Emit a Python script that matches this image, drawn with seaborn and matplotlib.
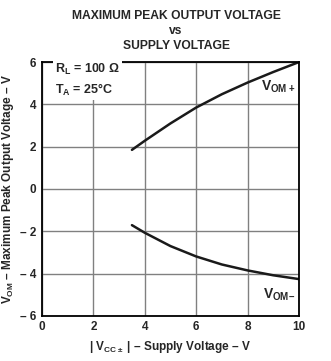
import matplotlib
matplotlib.use("Agg")
import matplotlib.pyplot as plt
import seaborn as sns
import pandas as pd

# data
vcc_pos = [3.5, 4.0, 5.0, 6.0, 7.0, 8.0, 9.0, 10.0]
vom_pos = [1.85, 2.28, 3.1, 3.85, 4.48, 5.03, 5.53, 6.0]
vcc_neg = [3.5, 4.0, 5.0, 6.0, 7.0, 8.0, 9.0, 10.0]
vom_neg = [-1.71, -2.07, -2.7, -3.19, -3.57, -3.85, -4.08, -4.26]
x_ticks = [0, 2, 4, 6, 8, 10]
x_tick_labels = ["0", "2", "4", "6", "8", "10"]
y_ticks = [-6, -4, -2, 0, 2, 4, 6]
y_tick_labels = ["\u2013 6", "\u2013 4", "\u2013 2", "0", "2", "4", "6"]

sns.set_style("white")
plt.rcParams['font.family'] = ['Liberation Sans', 'DejaVu Sans']
plt.rcParams['font.weight'] = 'bold'
plt.rcParams['mathtext.fontset'] = 'custom'
plt.rcParams['mathtext.rm'] = 'Liberation Sans:bold'
plt.rcParams['mathtext.bf'] = 'Liberation Sans:bold'
plt.rcParams['mathtext.default'] = 'rm'

df = pd.concat([
    pd.DataFrame({"vcc": vcc_pos, "vom": vom_pos, "s": "pos"}),
    pd.DataFrame({"vcc": vcc_neg, "vom": vom_neg, "s": "neg"}),
])

fig = plt.figure(figsize=(3.31, 3.61), dpi=100)
ax = fig.add_axes([0.127, 0.125, 0.776, 0.703])
sns.lineplot(data=df, x="vcc", y="vom", units="s", estimator=None,
             color="#1a1a1a", linewidth=1.8, ax=ax, legend=False)

ax.set_xlim(0, 10)
ax.set_ylim(-6, 6)
ax.set_xticks(x_ticks)
ax.set_xticklabels(x_tick_labels)
ax.set_yticks(y_ticks)
ax.set_yticklabels(y_tick_labels)
ax.tick_params(length=0, labelsize=8.5, pad=4)
for lab in ax.get_xticklabels() + ax.get_yticklabels():
    lab.set_fontweight('bold')
ax.grid(True, color="#808080", linewidth=1.0)
for sp in ax.spines.values():
    sp.set_color("black")
    sp.set_linewidth(1.3)

ax.set_xlabel("| V$_{\\mathrm{CC\\pm}}$ | \u2013 Supply Voltage \u2013 V",
              fontsize=8.5, fontweight='bold', labelpad=4)
ax.set_ylabel("V$_{\\mathrm{OM}}$ \u2013 Maximum Peak Output Voltage \u2013 V",
              fontsize=8.5, fontweight='bold', labelpad=3)

fig.text(0.532, 0.955, "MAXIMUM PEAK OUTPUT VOLTAGE", ha='center', va='center',
         fontsize=8.7, fontweight='bold')
fig.text(0.532, 0.913, "vs", ha='center', va='center', fontsize=8.7, fontweight='bold')
fig.text(0.532, 0.873, "SUPPLY VOLTAGE", ha='center', va='center', fontsize=8.7, fontweight='bold')

ax.text(0.5, 5.15, "R$_\\mathrm{L}$ = 100 \u03a9\nT$_\\mathrm{A}$ = 25\u00b0C", fontsize=9,
        fontweight='bold', va='center', ha='left', linespacing=1.4,
        bbox=dict(facecolor='white', edgecolor='none', pad=1.5))
ax.text(9.85, 4.85, "V$_\\mathrm{OM+}$", fontsize=10, fontweight='bold', ha='right', va='center')
ax.text(9.85, -5.0, "V$_\\mathrm{OM\u2013}$", fontsize=10, fontweight='bold', ha='right', va='center')

fig.savefig("out.png", dpi=100)
